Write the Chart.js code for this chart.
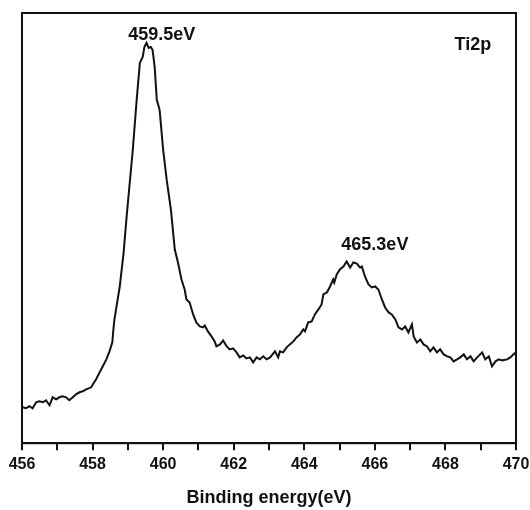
<!DOCTYPE html>
<html>
<head>
<meta charset="utf-8">
<script src="https://cdn.jsdelivr.net/npm/chart.js@4/dist/chart.umd.min.js"></script>
<style>
  html, body { margin: 0; padding: 0; background: #fff; }
  #wrap { width: 530px; height: 510px; }
</style>
</head>
<body>
<div id="wrap"><canvas id="c" width="530" height="510"></canvas></div>
<script>
// Binding energy (eV) and intensity (arb. units)
const energy = [
  456.02,456.11,456.21,456.30,456.40,456.49,456.59,456.68,456.78,456.87,456.97,457.06,457.15,457.25,457.34,457.44,
  457.53,457.63,457.72,457.82,457.96,458.01,458.10,458.20,458.29,458.39,458.48,458.56,458.59,458.62,458.77,458.88,
  458.97,459.14,459.25,459.34,459.42,459.47,459.53,459.59,459.65,459.70,459.76,459.82,459.90,460.00,460.10,460.22,
  460.33,460.42,460.52,460.61,460.66,460.75,460.85,460.94,461.04,461.13,461.18,461.27,461.37,461.46,461.51,461.61,
  461.70,461.80,461.89,461.98,462.08,462.17,462.27,462.36,462.46,462.55,462.65,462.74,462.84,462.93,463.03,463.17,
  463.26,463.31,463.40,463.50,463.59,463.69,463.78,463.88,463.97,464.02,464.11,464.21,464.30,464.40,464.49,464.54,
  464.64,464.73,464.82,464.85,464.92,465.01,465.11,465.20,465.25,465.30,465.39,465.49,465.58,465.63,465.72,465.82,
  465.91,466.01,466.10,466.20,466.29,466.39,466.48,466.58,466.67,466.77,466.86,466.95,467.05,467.10,467.19,467.29,
  467.38,467.48,467.57,467.66,467.76,467.85,467.95,468.05,468.14,468.23,468.33,468.42,468.52,468.61,468.71,468.80,
  468.90,469.04,469.13,469.23,469.32,469.42,469.51,469.61,469.75,469.84,469.93,470.00
];
const intensity = [
  36,35,37,35,41,42,41,43,38,46,44,46,47,46,43,46,
  49,51,52,54,56,59,64,71,77,84,92,101,114,124,157,191,
  229,294,344,381,387,397,401,396,397,394,377,344,334,294,264,234,
  194,181,164,154,144,141,129,121,117,116,118,112,107,102,97,99,
  103,97,94,95,91,86,88,85,86,81,86,84,87,84,86,92,
  86,92,91,96,99,102,106,109,114,112,121,122,129,134,139,149,
  151,157,164,161,169,174,177,182,179,176,181,180,176,177,167,159,
  156,157,154,144,136,131,129,124,116,114,117,111,119,107,101,104,
  99,97,92,96,91,94,89,87,86,82,84,86,89,84,87,82,
  86,91,84,87,77,82,84,83,84,86,89,91
];
const xTicks = [456, 458, 460, 462, 464, 466, 468, 470];
const peakLabels = ['459.5eV', '465.3eV', 'Ti2p'];
const peakLabelX = [459.96, 466.0, 468.78];
const peakLabelY = [409, 199, 399];

const points = energy.map((e, i) => ({ x: e, y: intensity[i] }));

const framePlugin = {
  id: 'frame',
  afterDraw(chart) {
    const { ctx, chartArea: a, scales } = chart;
    ctx.save();
    ctx.strokeStyle = '#111';
    ctx.lineWidth = 2;
    ctx.strokeRect(a.left, a.top, a.right - a.left, a.bottom - a.top);
    ctx.fillStyle = '#111';
    ctx.font = 'bold 18px "Liberation Sans", Arial, sans-serif';
    ctx.textAlign = 'center';
    ctx.textBaseline = 'middle';
    peakLabels.forEach((t, i) => {
      ctx.fillText(t, scales.x.getPixelForValue(peakLabelX[i]), scales.y.getPixelForValue(peakLabelY[i]));
    });
    ctx.restore();
  }
};

new Chart(document.getElementById('c'), {
  type: 'line',
  data: {
    datasets: [{
      data: points,
      borderColor: '#111',
      borderWidth: 2,
      pointRadius: 0,
      tension: 0,
      fill: false
    }]
  },
  options: {
    responsive: false,
    animation: false,
    layout: { padding: { left: 22, right: 14, top: 13, bottom: 0 } },
    plugins: { legend: { display: false }, tooltip: { enabled: false } },
    scales: {
      x: {
        type: 'linear',
        min: 456, max: 470,
        afterFit: s => { s.paddingRight = 0; s.paddingLeft = 0; },
        border: { display: true, color: '#111', width: 2 },
        grid: { display: true, drawOnChartArea: false, drawTicks: true, tickLength: 7, color: '#111', lineWidth: 2 },
        ticks: {
          stepSize: 1,
          autoSkip: false,
          maxRotation: 0,
          color: '#111',
          padding: 5,
          font: { family: '"Liberation Sans", Arial, sans-serif', size: 16, weight: 'bold' },
          callback: v => xTicks.includes(v) ? String(v) : ''
        },
        title: {
          display: true,
          text: 'Binding energy(eV)',
          color: '#111',
          font: { family: '"Liberation Sans", Arial, sans-serif', size: 18, weight: 'bold' },
          padding: { top: 8, bottom: 1 }
        }
      },
      y: {
        display: false,
        min: 0, max: 431
      }
    }
  },
  plugins: [framePlugin]
});
</script>
</body>
</html>
